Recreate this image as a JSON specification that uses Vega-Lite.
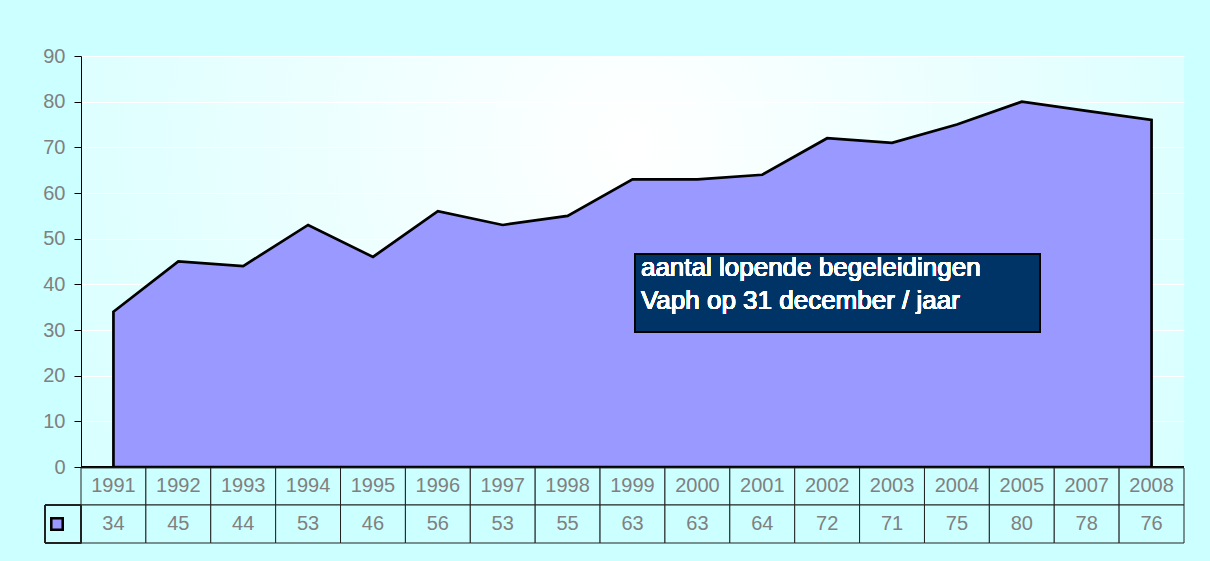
{
  "$schema": "https://vega.github.io/schema/vega-lite/v6.json",
  "width": 1103,
  "height": 487,
  "autosize": {"type": "none"},
  "padding": {"left": 81, "top": 56, "right": 26, "bottom": 18},
  "background": "#CCFFFF",
  "config": {
    "font": "Liberation Sans",
    "view": {
      "stroke": null,
      "fill": {"gradient": "radial", "x1": 0.5, "y1": 0.36, "r1": 0, "x2": 0.5, "y2": 0.36, "r2": 0.75,
        "stops": [{"offset": 0, "color": "#FFFFFF"}, {"offset": 1, "color": "#CCFFFF"}]}
    }
  },
  "data": {"values": [
    {"year": "1991", "value": 34}, {"year": "1992", "value": 45}, {"year": "1993", "value": 44},
    {"year": "1994", "value": 53}, {"year": "1995", "value": 46}, {"year": "1996", "value": 56},
    {"year": "1997", "value": 53}, {"year": "1998", "value": 55}, {"year": "1999", "value": 63},
    {"year": "2000", "value": 63}, {"year": "2001", "value": 64}, {"year": "2002", "value": 72},
    {"year": "2003", "value": 71}, {"year": "2004", "value": 75}, {"year": "2005", "value": 80},
    {"year": "2007", "value": 78}, {"year": "2008", "value": 76}
  ]},
  "layer": [
    {
      "mark": {"type": "area", "fill": "#9999FF", "stroke": "#000000", "strokeWidth": 2.7, "strokeJoin": "miter"},
      "encoding": {
        "x": {"field": "year", "type": "ordinal", "sort": null, "bandPosition": 0.5,
          "scale": {"type": "band", "paddingInner": 0, "paddingOuter": 0}, "axis": null},
        "y": {"field": "value", "type": "quantitative",
          "scale": {"domain": [-16.64, 90], "nice": false, "zero": false},
          "axis": {"values": [0, 10, 20, 30, 40, 50, 60, 70, 80, 90], "title": null,
            "domainColor": "#000000", "domainWidth": 1, "tickColor": "#000000", "tickSize": 7,
            "labelColor": "#808080", "labelFontSize": 20, "labelPadding": 9,
            "grid": true, "gridColor": "#FFFFFF", "gridWidth": 1}},
        "y2": {"datum": 0}
      }
    },
    {
      "mark": {"type": "rule", "color": "#000000", "strokeWidth": 2},
      "encoding": {"y": {"datum": 0, "type": "quantitative"}}
    },
    {
      "mark": {"type": "rect", "fill": "#CCFFFF", "stroke": "#222222", "strokeWidth": 1},
      "encoding": {
        "x": {"field": "year", "type": "ordinal", "sort": null},
        "y": {"datum": -0.2, "type": "quantitative"},
        "y2": {"datum": -8.32}
      }
    },
    {
      "mark": {"type": "rect", "fill": "#CCFFFF", "stroke": "#222222", "strokeWidth": 1},
      "encoding": {
        "x": {"field": "year", "type": "ordinal", "sort": null},
        "y": {"datum": -8.32, "type": "quantitative"},
        "y2": {"datum": -16.64}
      }
    },
    {
      "mark": {"type": "text", "fill": "#808080", "fontSize": 20, "baseline": "middle", "align": "center"},
      "encoding": {
        "x": {"field": "year", "type": "ordinal", "sort": null, "bandPosition": 0.5},
        "y": {"datum": -4.16, "type": "quantitative"},
        "text": {"field": "year"}
      }
    },
    {
      "mark": {"type": "text", "fill": "#808080", "fontSize": 20, "baseline": "middle", "align": "center"},
      "encoding": {
        "x": {"field": "year", "type": "ordinal", "sort": null, "bandPosition": 0.5},
        "y": {"datum": -12.48, "type": "quantitative"},
        "text": {"field": "value"}
      }
    },
    {
      "mark": {"type": "rect", "fill": null, "fillOpacity": 0, "stroke": "#222222", "strokeWidth": 1, "xOffset": -36},
      "encoding": {
        "x": {"datum": "1991", "bandPosition": 0},
        "x2": {"datum": "1991", "bandPosition": 0},
        "y": {"datum": -8.32, "type": "quantitative"},
        "y2": {"datum": -16.64}
      }
    },
    {
      "mark": {"type": "point", "shape": "square", "filled": true, "fill": "#9999FF", "stroke": "#000000", "strokeWidth": 2.5, "size": 130, "opacity": 1, "xOffset": -24},
      "encoding": {
        "x": {"datum": "1991", "bandPosition": 0},
        "y": {"datum": -12.48, "type": "quantitative"}
      }
    },
    {
      "mark": {"type": "rect", "fill": "#003366", "stroke": "#000000", "strokeWidth": 1.5},
      "encoding": {
        "x": {"datum": "1999", "bandPosition": 0.54},
        "x2": {"datum": "2005", "bandPosition": 0.78},
        "y": {"datum": 46.6, "type": "quantitative"},
        "y2": {"datum": 29.6}
      }
    },
    {
      "mark": {"type": "text", "fill": "#FFFFFF", "fontSize": 26, "fontWeight": "normal", "align": "left", "baseline": "alphabetic", "lineHeight": 33,
        "text": ["aantal lopende begeleidingen", "Vaph op 31 december / jaar"]},
      "encoding": {
        "x": {"datum": "1999", "bandPosition": 0.63},
        "y": {"datum": 41.8, "type": "quantitative"}
      }
    }
  ]
}
